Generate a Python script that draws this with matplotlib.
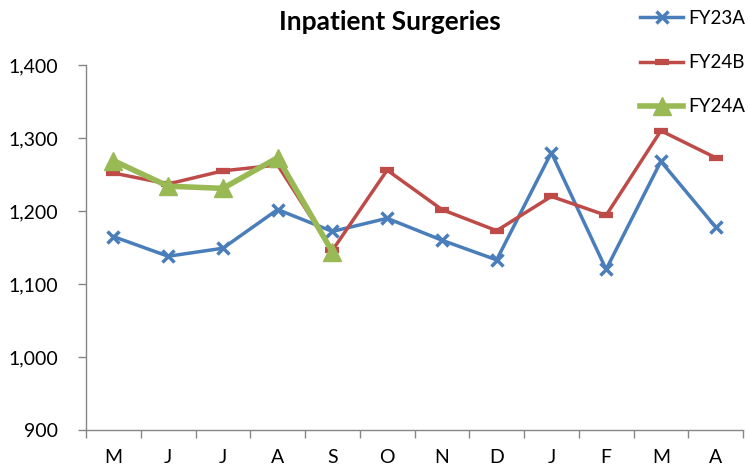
import matplotlib.pyplot as plt
import numpy as np

months = ["M", "J", "J", "A", "S", "O", "N", "D", "J", "F", "M", "A"]
fy23a = [1165, 1138, 1149, 1202, 1172, 1190, 1160, 1133, 1280, 1120, 1268, 1178]
fy24b = [1252, 1237, 1255, 1263, 1146, 1256, 1202, 1173, 1220, 1194, 1310, 1273]
fy24a = [1269, 1234, 1231, 1273, 1144]

plt.rcParams['font.family'] = ['Lato', 'DejaVu Sans']

fig = plt.figure(figsize=(7.48, 4.70), dpi=100)
ax = fig.add_axes([86/748, 1-430/470, (743-86)/748, (430-65)/470])

x = np.arange(len(months))
ax.plot(x, fy23a, color='#4A7EBB', lw=2.5, marker='x', ms=8, mew=2.5, label='FY23A')
ax.plot(x, fy24b, color='#BE4B48', lw=2.5, marker='_', ms=10, mew=4.5, label='FY24B')
ax.plot(x[:len(fy24a)], fy24a, color='#98B954', lw=4, marker='^', ms=13, label='FY24A')

ax.set_ylim(900, 1400)
ax.set_xlim(-0.5, len(months) - 0.5)
ax.set_yticks(range(900, 1401, 100))
ax.set_yticklabels([f"{v:,}" for v in range(900, 1401, 100)], fontsize=14)

# excel style: tick marks between categories, labels centred
ax.set_xticks(np.arange(-0.5, len(months), 1))
ax.set_xticklabels([])
ax.set_xticks(x, minor=True)
ax.set_xticklabels(months, minor=True, fontsize=14)
ax.tick_params(axis='x', which='major', length=6, color='#868686', width=1)
ax.tick_params(axis='x', which='minor', length=0, pad=14)
ax.tick_params(axis='y', length=6, color='#868686', width=1, pad=14)

for s in ['top', 'right']:
    ax.spines[s].set_visible(False)
for s in ['left', 'bottom']:
    ax.spines[s].set_color('#868686')
    ax.spines[s].set_linewidth(1)

fig.text(390/748, 1-22/470, "Inpatient Surgeries", ha='center', va='center',
         fontsize=19, fontweight='bold')

fig.legend(loc='upper left', bbox_to_anchor=(640/748, 1-10/470), borderaxespad=0, borderpad=0,
           frameon=False, fontsize=13.5, handlelength=2.3, labelspacing=1.45, handletextpad=0.25)

fig.savefig('out.png', dpi=100)
